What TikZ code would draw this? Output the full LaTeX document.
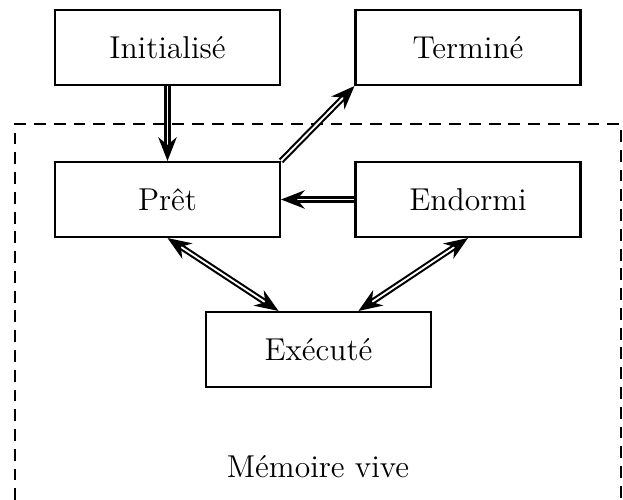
\documentclass[tikz,border=0pt]{standalone}
\usetikzlibrary{arrows.meta}
\begin{document}
\begin{tikzpicture}[x=0.013333cm,y=-0.013333cm,
  box/.style={draw,thick,minimum width=3cm,minimum height=1cm,inner sep=0pt,font=\large},
  dbl/.style={thick,double,double distance=0.7pt,-{Stealth[length=9pt,width=7pt]}},
  dblboth/.style={thick,double,double distance=0.7pt,{Stealth[length=9pt,width=7pt]}-{Stealth[length=9pt,width=7pt]}}]
\useasboundingbox (0,0) rectangle (623,500);
\draw[thick,dash pattern=on 4.5pt off 3pt] (15,520) |- (621,124) -- (621,520);
\node[box] (ini) at (167.5,47.5) {Initialisé};
\node[box] (ter) at (468,47.5) {Terminé};
\node[box] (pre) at (167.5,199.5) {Prêt};
\node[box] (end) at (468,199.5) {Endormi};
\node[box] (exe) at (318.5,349.5) {Exécuté};
\node[font=\large] (mem) at (318,467) {Mémoire vive};
\draw[dbl] (ini.south) -- (pre.north);
\draw[dbl] (pre.north east) -- (ter.south west);
\draw[dbl] (end.west) -- (pre.east);
\draw[dblboth] (pre.south) -- ([xshift=-0.533cm]exe.north);
\draw[dblboth] (end.south) -- ([xshift=0.533cm]exe.north);
\end{tikzpicture}
\end{document}
